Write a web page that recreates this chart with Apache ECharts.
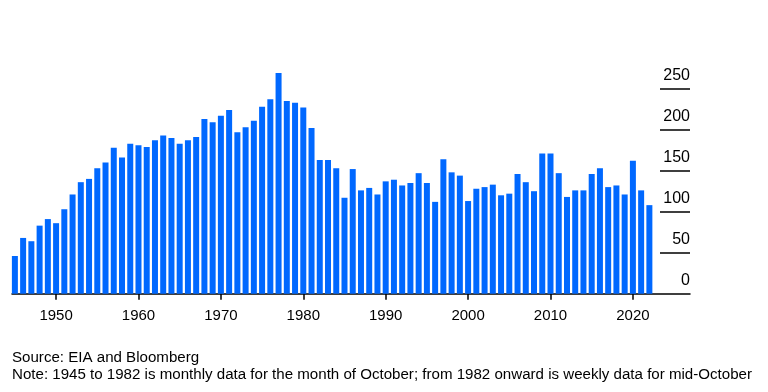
<!DOCTYPE html>
<html>
<head>
<meta charset="utf-8">
<script src="https://cdn.jsdelivr.net/npm/echarts@6/dist/echarts.min.js"></script>
<style>
  html, body { margin: 0; padding: 0; background: #ffffff; }
  #chart { width: 768px; height: 392px; }
</style>
</head>
<body>
<div id="chart"></div>
<script>
const years = [
  1945, 1946, 1947, 1948, 1949, 1950, 1951, 1952, 1953, 1954,
  1955, 1956, 1957, 1958, 1959, 1960, 1961, 1962, 1963, 1964,
  1965, 1966, 1967, 1968, 1969, 1970, 1971, 1972, 1973, 1974,
  1975, 1976, 1977, 1978, 1979, 1980, 1981, 1982, 1983, 1984,
  1985, 1986, 1987, 1988, 1989, 1990, 1991, 1992, 1993, 1994,
  1995, 1996, 1997, 1998, 1999, 2000, 2001, 2002, 2003, 2004,
  2005, 2006, 2007, 2008, 2009, 2010, 2011, 2012, 2013, 2014,
  2015, 2016, 2017, 2018, 2019, 2020, 2021, 2022
];
const values = [
  46, 68, 64, 83, 91, 86, 103, 121, 136, 140,
  153, 160, 178, 166, 183, 181, 179, 187, 193, 190,
  183, 187, 191, 213, 209, 217, 224, 197, 203, 211,
  228, 237, 269, 235, 233, 227, 202, 163, 163, 153,
  117, 152, 126, 129, 121, 137, 139, 132, 135, 147,
  135, 112, 164, 148, 144, 113, 128, 130, 133, 120,
  122, 146, 136, 125, 171, 171, 147, 118, 126, 126,
  146, 153, 130, 132, 121, 162, 126, 108
];
const xTickYears = [1950, 1960, 1970, 1980, 1990, 2000, 2010, 2020];
const yTickValues = [0, 50, 100, 150, 200, 250];
const sourceText = 'Source: EIA and Bloomberg';
const noteText = 'Note: 1945 to 1982 is monthly data for the month of October; from 1982 onward is weekly data for mid-October';

const chart = echarts.init(document.getElementById('chart'), null, { renderer: 'canvas' });
const font = '"Liberation Sans", Arial, Helvetica, sans-serif';

chart.setOption({
  animation: false,
  backgroundColor: '#ffffff',
  title: {
    text: sourceText + '\n' + noteText,
    left: 12,
    top: 349,
    padding: 0,
    textStyle: {
      fontFamily: font,
      fontSize: 15.1,
      fontWeight: 'normal',
      color: '#000000',
      lineHeight: 17
    }
  },
  grid: {
    left: 12,
    right: 78,
    top: 47.7,
    bottom: 98.3,
    containLabel: false
  },
  xAxis: {
    type: 'value',
    min: 1944.65,
    max: 2026.93,
    splitLine: { show: false },
    axisLine: { show: true, lineStyle: { color: '#000000', width: 1.5 } },
    axisTick: {
      show: true,
      length: 6,
      customValues: xTickYears,
      lineStyle: { color: '#000000', width: 1.5 }
    },
    axisLabel: {
      show: true,
      customValues: xTickYears,
      margin: 15,
      fontFamily: font,
      fontSize: 15,
      color: '#000000',
      formatter: function (v) { return String(v); }
    }
  },
  yAxis: {
    type: 'value',
    position: 'right',
    min: 0,
    max: 300,
    splitLine: { show: false },
    axisLine: { show: false },
    axisTick: {
      show: true,
      inside: true,
      length: 30,
      customValues: yTickValues.slice(1),
      lineStyle: { color: '#000000', width: 1.5 }
    },
    axisLabel: {
      show: true,
      inside: true,
      customValues: yTickValues,
      margin: 0,
      align: 'right',
      verticalAlign: 'bottom',
      padding: [0, 0, 5, 0],
      fontFamily: font,
      fontSize: 16,
      color: '#000000'
    }
  },
  series: [{
    type: 'bar',
    data: years.map((y, i) => [y, values[i]]),
    barWidth: 6,
    itemStyle: { color: '#0068ff' },
    z: 3
  }]
});
</script>
</body>
</html>
